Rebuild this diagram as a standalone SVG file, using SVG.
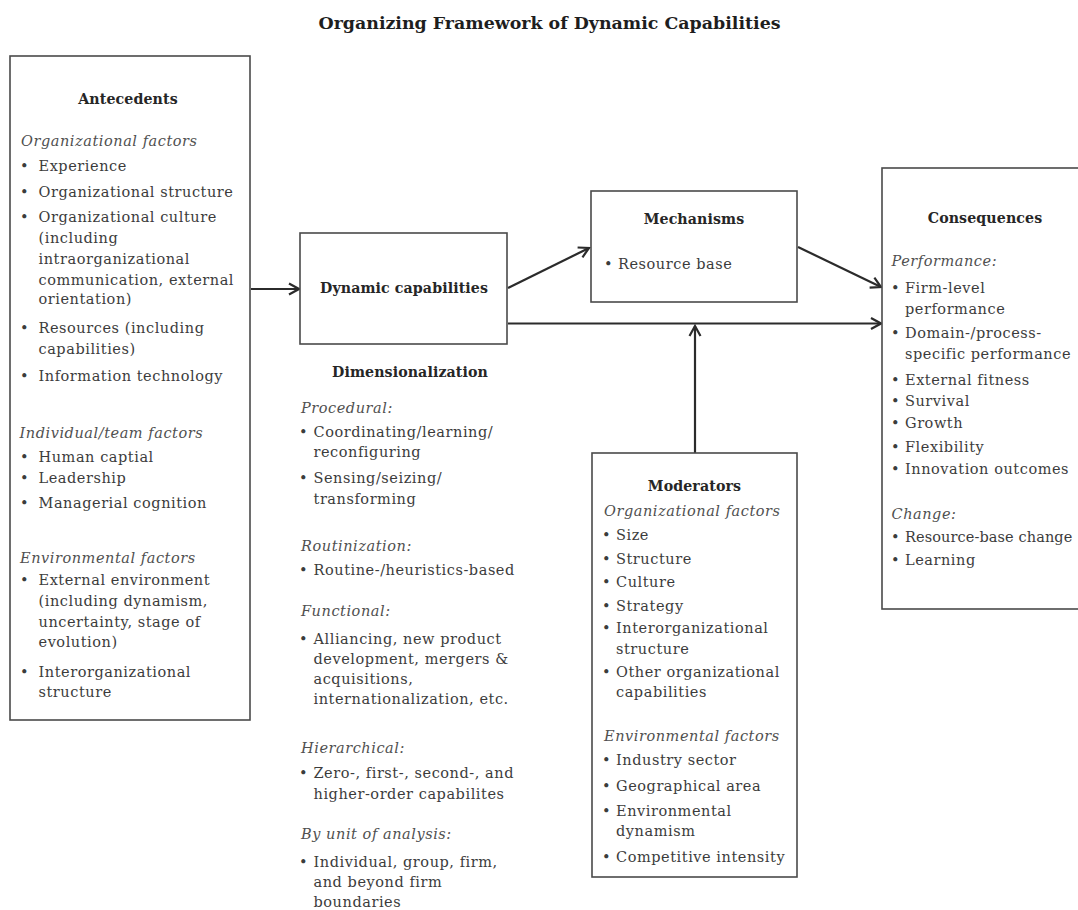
<svg xmlns="http://www.w3.org/2000/svg" width="1078" height="910" viewBox="0 0 1078 910">
<style>
.t{font-family:"DejaVu Serif","Liberation Serif",serif;font-size:14.5px;fill:#3c3c3c;letter-spacing:0.55px}
.i{font-style:italic;fill:#505050}
.h{font-weight:bold;fill:#262626;font-size:14.2px;letter-spacing:0.1px}
.ttl{font-family:"DejaVu Serif","Liberation Serif",serif;font-size:17.4px;font-weight:bold;fill:#1e1e1e}
.box{fill:#ffffff;stroke:#4a4a4a;stroke-width:1.6}
.c{fill:none;stroke:#2b2b2b;stroke-width:2.2}
.m{text-anchor:middle}
</style>
<defs>
<marker id="ah" viewBox="-12 -8 14 16" refX="0" refY="0" markerWidth="14" markerHeight="16" markerUnits="userSpaceOnUse" orient="auto">
<path d="M-10,-5.5 L0,0 L-10,5.5" fill="none" stroke="#2b2b2b" stroke-width="2.2" stroke-linejoin="miter"/>
</marker>
</defs>
<rect width="1078" height="910" fill="#ffffff"/>
<text class="ttl m" x="549.5" y="29">Organizing Framework of Dynamic Capabilities</text>

<g id="connectors">
<line class="c" x1="251" y1="289" x2="299" y2="289" marker-end="url(#ah)"/>
<line class="c" x1="508" y1="288" x2="589" y2="248" marker-end="url(#ah)"/>
<line class="c" x1="798" y1="247" x2="881" y2="287" marker-end="url(#ah)"/>
<line class="c" x1="508" y1="323.5" x2="881" y2="323.5" marker-end="url(#ah)"/>
<line class="c" x1="695" y1="453" x2="695" y2="326" marker-end="url(#ah)"/>
</g>

<g id="antecedents">
<rect class="box" x="10" y="56" width="240" height="664"/>
<text class="t h m" x="128" y="104">Antecedents</text>
<text class="t i" x="21" y="145.5">Organizational factors</text>
<text class="t"><tspan x="20" y="171">•</tspan><tspan x="38.5">Experience</tspan></text>
<text class="t"><tspan x="20" y="196.5">•</tspan><tspan x="38.5">Organizational structure</tspan></text>
<text class="t"><tspan x="20" y="222">•</tspan><tspan x="38.5">Organizational culture</tspan></text>
<text class="t" x="38.5" y="243">(including</text>
<text class="t" x="38.5" y="264">intraorganizational</text>
<text class="t" x="38.5" y="285">communication, external</text>
<text class="t" x="38.5" y="304">orientation)</text>
<text class="t"><tspan x="20" y="333">•</tspan><tspan x="38.5">Resources (including</tspan></text>
<text class="t" x="38.5" y="354">capabilities)</text>
<text class="t"><tspan x="20" y="381">•</tspan><tspan x="38.5">Information technology</tspan></text>
<text class="t i" x="19.5" y="437.5">Individual/team factors</text>
<text class="t"><tspan x="20" y="461.5">•</tspan><tspan x="38.5">Human captial</tspan></text>
<text class="t"><tspan x="20" y="482.5">•</tspan><tspan x="38.5">Leadership</tspan></text>
<text class="t"><tspan x="20" y="508">•</tspan><tspan x="38.5">Managerial cognition</tspan></text>
<text class="t i" x="20" y="562.5">Environmental factors</text>
<text class="t"><tspan x="20" y="585">•</tspan><tspan x="38.5">External environment</tspan></text>
<text class="t" x="38.5" y="606">(including dynamism,</text>
<text class="t" x="38.5" y="626.5">uncertainty, stage of</text>
<text class="t" x="38.5" y="647">evolution)</text>
<text class="t"><tspan x="20" y="676.5">•</tspan><tspan x="38.5">Interorganizational</tspan></text>
<text class="t" x="38.5" y="697">structure</text>
</g>

<g id="dynamic-capabilities">
<rect class="box" x="300" y="233" width="207" height="111"/>
<text class="t h m" x="404" y="293">Dynamic capabilities</text>
</g>

<g id="dimensionalization">
<text class="t h m" x="410" y="376.5">Dimensionalization</text>
<text class="t i" x="301" y="413">Procedural:</text>
<text class="t"><tspan x="299" y="436.5">•</tspan><tspan x="313.5">Coordinating/learning/</tspan></text>
<text class="t" x="313.5" y="457">reconfiguring</text>
<text class="t"><tspan x="299" y="483">•</tspan><tspan x="313.5">Sensing/seizing/</tspan></text>
<text class="t" x="313.5" y="504">transforming</text>
<text class="t i" x="301" y="550.5">Routinization:</text>
<text class="t"><tspan x="299" y="575">•</tspan><tspan x="313.5">Routine-/heuristics-based</tspan></text>
<text class="t i" x="301" y="616">Functional:</text>
<text class="t"><tspan x="299" y="644">•</tspan><tspan x="313.5">Alliancing, new product</tspan></text>
<text class="t" x="313.5" y="663.5">development, mergers &amp;</text>
<text class="t" x="313.5" y="683.5">acquisitions,</text>
<text class="t" x="313.5" y="704">internationalization, etc.</text>
<text class="t i" x="301" y="752.5">Hierarchical:</text>
<text class="t"><tspan x="299" y="778">•</tspan><tspan x="313.5">Zero-, first-, second-, and</tspan></text>
<text class="t" x="313.5" y="799">higher-order capabilites</text>
<text class="t i" x="301" y="839">By unit of analysis:</text>
<text class="t"><tspan x="299" y="866.5">•</tspan><tspan x="313.5">Individual, group, firm,</tspan></text>
<text class="t" x="313.5" y="887">and beyond firm</text>
<text class="t" x="313.5" y="907">boundaries</text>
</g>

<g id="mechanisms">
<rect class="box" x="591" y="191" width="206" height="111"/>
<text class="t h m" x="694" y="224">Mechanisms</text>
<text class="t"><tspan x="604" y="269">•</tspan><tspan x="618">Resource base</tspan></text>
</g>

<g id="consequences">
<rect class="box" x="882" y="168" width="220" height="441"/>
<text class="t h m" x="985" y="222.5">Consequences</text>
<text class="t i" x="891.5" y="265.5">Performance:</text>
<text class="t"><tspan x="891" y="293">•</tspan><tspan x="905">Firm-level</tspan></text>
<text class="t" x="905" y="314">performance</text>
<text class="t"><tspan x="891" y="338">•</tspan><tspan x="905">Domain-/process-</tspan></text>
<text class="t" x="905" y="359">specific performance</text>
<text class="t"><tspan x="891" y="385">•</tspan><tspan x="905">External fitness</tspan></text>
<text class="t"><tspan x="891" y="405.5">•</tspan><tspan x="905">Survival</tspan></text>
<text class="t"><tspan x="891" y="428">•</tspan><tspan x="905">Growth</tspan></text>
<text class="t"><tspan x="891" y="451.5">•</tspan><tspan x="905">Flexibility</tspan></text>
<text class="t"><tspan x="891" y="474">•</tspan><tspan x="905">Innovation outcomes</tspan></text>
<text class="t i" x="891.5" y="519">Change:</text>
<text class="t" style="letter-spacing:0.1px"><tspan x="891" y="541.5">•</tspan><tspan x="905">Resource-base change</tspan></text>
<text class="t"><tspan x="891" y="565">•</tspan><tspan x="905">Learning</tspan></text>
</g>

<g id="moderators">
<rect class="box" x="592" y="453" width="205" height="424"/>
<text class="t h m" x="694.5" y="490.5">Moderators</text>
<text class="t i" x="604" y="516">Organizational factors</text>
<text class="t"><tspan x="602" y="540">•</tspan><tspan x="616">Size</tspan></text>
<text class="t"><tspan x="602" y="564">•</tspan><tspan x="616">Structure</tspan></text>
<text class="t"><tspan x="602" y="586.5">•</tspan><tspan x="616">Culture</tspan></text>
<text class="t"><tspan x="602" y="610.5">•</tspan><tspan x="616">Strategy</tspan></text>
<text class="t"><tspan x="602" y="633">•</tspan><tspan x="616">Interorganizational</tspan></text>
<text class="t" x="616" y="654">structure</text>
<text class="t"><tspan x="602" y="677">•</tspan><tspan x="616">Other organizational</tspan></text>
<text class="t" x="616" y="697">capabilities</text>
<text class="t i" x="604" y="740.5">Environmental factors</text>
<text class="t"><tspan x="602" y="765">•</tspan><tspan x="616">Industry sector</tspan></text>
<text class="t"><tspan x="602" y="790.5">•</tspan><tspan x="616">Geographical area</tspan></text>
<text class="t"><tspan x="602" y="815.5">•</tspan><tspan x="616">Environmental</tspan></text>
<text class="t" x="616" y="835.5">dynamism</text>
<text class="t"><tspan x="602" y="861.5">•</tspan><tspan x="616">Competitive intensity</tspan></text>
</g>
</svg>
